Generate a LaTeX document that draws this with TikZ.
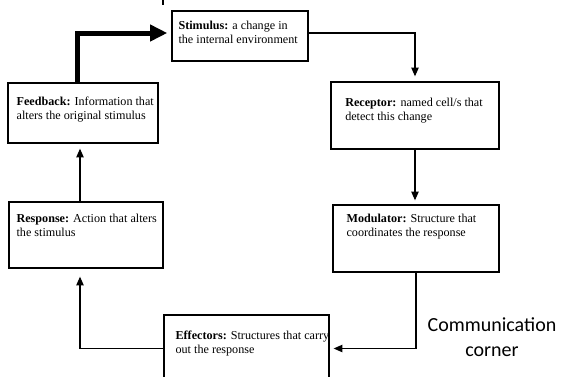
\documentclass[tikz,border=0pt]{standalone}
\usepackage{fontspec}
\setmainfont{Liberation Serif}
\newfontfamily\cornerfont{Carlito}
\usetikzlibrary{arrows.meta,positioning}

\tikzstyle{box} = [draw, line width=1pt, rectangle, inner sep=0pt]
\tikzstyle{info} = [anchor=north west, align=left, inner sep=0pt, font=\fontsize{9.1}{10.6}\selectfont]
\tikzstyle{link} = [line width=0.8pt, -{Triangle[length=6.5pt,width=5.5pt]}]
\tikzstyle{back} = [line width=3.75pt, -{Triangle[length=13pt,width=12pt]}]

\begin{document}
\begin{tikzpicture}[x=0.75pt, y=-0.75pt]
\useasboundingbox (0,0) rectangle (562,376);
\clip (0,0) rectangle (562,376);
%stimulus
\node[box, minimum width=102pt, minimum height=37.5pt] (stimulus) at (240,36) {};
\node[info, below right=7.5pt and 5.2pt of stimulus.north west] (stimulustext) {\textbf{Stimulus:} a change in\\the internal environment};
%receptor
\node[box, minimum width=126pt, minimum height=50.25pt] (receptor) at (415,115.5) {};
\node[info, below right=12pt and 11pt of receptor.north west] (receptortext) {\textbf{Receptor:} named cell/s that\\detect this change};
%modulator
\node[box, minimum width=124.5pt, minimum height=50.25pt] (modulator) at (416,238.5) {};
\node[info, below right=7pt and 10.5pt of modulator.north west] (modulatortext) {\textbf{Modulator:} Structure that\\coordinates the response};
%effectors
\node[box, minimum width=123.75pt, minimum height=50.25pt] (effectors) at (246.5,348.5) {};
\node[info, below right=12pt and 9pt of effectors.north west] (effectorstext) {\textbf{Effectors:} Structures that carry\\out the response};
%response
\node[box, minimum width=115.5pt, minimum height=49.5pt] (response) at (86,235) {};
\node[info, below right=9pt and 6pt of response.north west] (responsetext) {\textbf{Response:} Action that alters\\the stimulus};
%feedback
\node[box, minimum width=112.5pt, minimum height=45pt] (feedback) at (83,113) {};
\node[info, below right=11pt and 6.8pt of feedback.north west] (feedbacktext) {\textbf{Feedback:} Information that\\alters the original stimulus};
%corner
\node[font=\cornerfont\fontsize{15}{18.5}\selectfont, align=center] (corner) at (492,337) {Communication\\corner};
%pijlen
\draw[back, shorten >=3pt] ([xshift=-4.5pt]feedback.north) |- ([yshift=2.25pt]stimulus.west);
\draw[link, shorten >=3.75pt] ([yshift=2.25pt]stimulus.east) -| (receptor.north);
\draw[link, shorten >=3pt] (receptor.south) -- (receptor.south |- modulator.north);
\draw[link, shorten >=3pt] (modulator.south) |- (effectors.east);
\draw[link, shorten >=6pt] (effectors.west) -| ([xshift=-4.5pt]response.south);
\draw[link, shorten >=3.75pt] ([xshift=-4.5pt]response.north) -- ([xshift=-4.5pt]response.north |- feedback.south);
\draw[line width=0.8pt] (163,0) -- (163,5);
\end{tikzpicture}
\end{document}
